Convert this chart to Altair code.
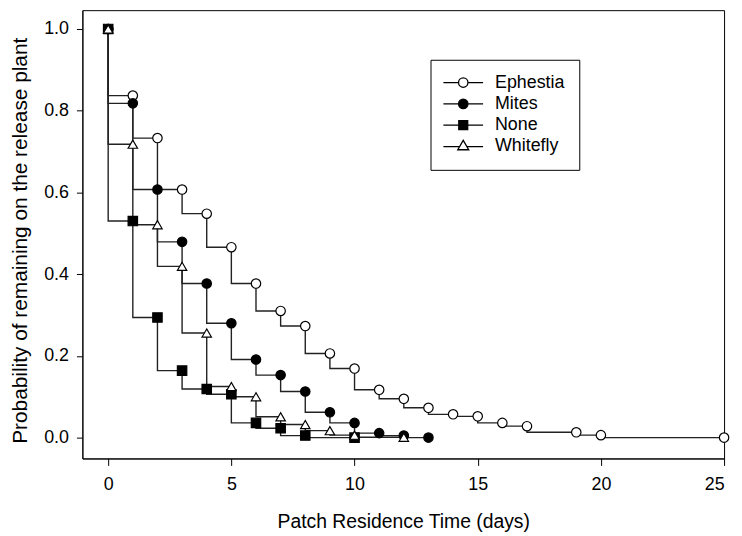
import altair as alt
import pandas as pd

series_names = ["Ephestia", "Mites", "None", "Whitefly"]

days_ephestia = [0, 1, 2, 3, 4, 5, 6, 7, 8, 9, 10, 11, 12, 13, 14, 15, 16, 17, 19, 20, 25]
prob_ephestia = [1.0, 0.837, 0.733, 0.607, 0.548, 0.466, 0.377, 0.310, 0.273, 0.206, 0.169,
                 0.117, 0.095, 0.073, 0.057, 0.052, 0.036, 0.028, 0.013, 0.006, 0.0]

days_mites = [0, 1, 2, 3, 4, 5, 6, 7, 8, 9, 10, 11, 12, 13]
prob_mites = [1.0, 0.818, 0.607, 0.479, 0.377, 0.280, 0.191, 0.153, 0.113, 0.062, 0.036,
              0.011, 0.005, 0.0]

days_none = [0, 1, 2, 3, 4, 5, 6, 7, 8, 10]
prob_none = [1.0, 0.530, 0.294, 0.164, 0.119, 0.106, 0.036, 0.023, 0.005, 0.0]

days_whitefly = [0, 1, 2, 3, 4, 5, 6, 7, 8, 9, 10, 12]
prob_whitefly = [1.0, 0.718, 0.521, 0.419, 0.256, 0.125, 0.100, 0.051, 0.032, 0.017, 0.006, 0.001]

x_ticks = [0, 5, 10, 15, 20, 25]
y_ticks = [0.0, 0.2, 0.4, 0.6, 0.8, 1.0]

rows = []
for name, days, probs in [("Ephestia", days_ephestia, prob_ephestia),
                          ("Mites", days_mites, prob_mites),
                          ("None", days_none, prob_none),
                          ("Whitefly", days_whitefly, prob_whitefly)]:
    for d, p in zip(days, probs):
        rows.append({"series": name, "day": d, "p": p})
df = pd.DataFrame(rows)

FONT = "Liberation Sans"

x_enc = alt.X("day:Q",
              scale=alt.Scale(domain=[-1.047, 25], nice=False, zero=False),
              axis=alt.Axis(values=x_ticks, title="Patch Residence Time (days)", format="d",
                            tickSize=7, labelPadding=10, titleFontSize=19.5,
                            titleY=70, titleBaseline="alphabetic"))
y_enc = alt.Y("p:Q",
              scale=alt.Scale(domain=[-0.051, 1.046], nice=False, zero=False),
              axis=alt.Axis(values=y_ticks, format=".1f",
                            title="Probability of remaining on the release plant",
                            tickSize=6, labelPadding=8, titleFontSize=21,
                            titleX=-56, titleY=232, titleAlign="center",
                            titleBaseline="alphabetic"))

fill_range = ["white", "black", "black", "white"]

lines = alt.Chart(df).mark_line(interpolate="step-before", color="#222222",
                                strokeWidth=1.4).encode(
    x=x_enc, y=y_enc, detail="series:N", order="day:Q")

points = alt.Chart(df).mark_point(filled=True, opacity=1, stroke="black",
                                  strokeWidth=1.2).encode(
    x=x_enc, y=y_enc,
    shape=alt.Shape("series:N", legend=None,
                    scale=alt.Scale(domain=series_names,
                                    range=["circle", "circle", "square", "triangle-up"])),
    fill=alt.Fill("series:N", legend=None,
                  scale=alt.Scale(domain=series_names, range=fill_range)),
    size=alt.Size("series:N", legend=None,
                  scale=alt.Scale(domain=series_names, range=[90, 90, 81, 121])),
)

# legend symbols: a short line with the marker in the middle (unit = 5 px)
path_open_circle = ("M-2,0H1.05M2.95,0H6"
                    "M2.95,0A0.95,0.95,0,1,1,1.05,0A0.95,0.95,0,1,1,2.95,0Z")
path_square = "M-2,0H1.1M2.9,0H6M1.1,-0.9H2.9V0.9H1.1Z"
path_triangle = "M-2,0H1.28M2.72,0H6M2,-1.25L3.1,0.65L0.9,0.65Z"

legend_def = alt.Legend(title=None, orient="none", legendX=351, legendY=50,
                        padding=14, symbolSize=100, symbolStrokeWidth=1.3,
                        symbolOpacity=1,
                        labelFontSize=18, labelFont=FONT, labelColor="black",
                        labelOffset=33, rowPadding=3.5, labelLimit=300,
                        strokeColor="black", fillColor="white")

legend_layer = alt.Chart(df).transform_filter("datum.p > 2").mark_point(
    filled=True).encode(
    x=x_enc, y=y_enc,
    shape=alt.Shape("series:N", legend=legend_def,
                    scale=alt.Scale(domain=series_names,
                                    range=[path_open_circle, path_open_circle,
                                           path_square, path_triangle])),
    fill=alt.Fill("series:N", legend=legend_def,
                  scale=alt.Scale(domain=series_names, range=fill_range)),
    stroke=alt.Stroke("series:N", legend=legend_def,
                      scale=alt.Scale(domain=series_names,
                                      range=["black", "black", "black", "black"])),
)

chart = alt.layer(lines, points, legend_layer).resolve_scale(
    shape="independent", fill="independent", size="independent", stroke="independent"
).properties(
    width=647, height=452,
    autosize=alt.AutoSizeParams(type="none"),
    padding={"left": 75, "top": 0, "right": 10, "bottom": 76},
).configure_view(stroke="black", strokeWidth=1).configure_axis(
    grid=False, domainColor="black", tickColor="black", labelColor="black",
    titleColor="black", labelFont=FONT, titleFont=FONT, labelFontSize=18,
    titleFontWeight="normal", domainWidth=1, tickWidth=1,
)

chart.save("out.html", embed_options={"renderer": "svg", "actions": False})
